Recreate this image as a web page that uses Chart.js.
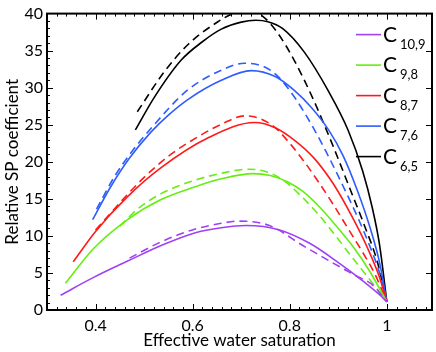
<!DOCTYPE html>
<html>
<head>
<meta charset="utf-8">
<script src="https://cdn.jsdelivr.net/npm/chart.js@4"></script>
<style>
  html, body { margin: 0; padding: 0; background: #fff; }
  #wrap { width: 436px; height: 352px; }
</style>
</head>
<body>
<div id="wrap"><canvas id="spChart" width="436" height="352"></canvas></div>
<script>
// ===== DATA =====
const xTicks = [0.4, 0.6, 0.8, 1];
const yTicks = [0, 5, 10, 15, 20, 25, 30, 35, 40];
const legendSubs = ["10,9", "9,8", "8,7", "7,6", "6,5"];
const seriesColors = ["#a040f5", "#66ee11", "#ff1a1a", "#2e5cff", "#000000"];

const c109X = [0.328, 0.396, 0.466, 0.535, 0.604, 0.659, 0.71, 0.779, 0.841, 0.896, 0.951, 0.986, 1.0];
const c109Y = [2.0, 4.4, 6.6, 8.7, 10.4, 11.1, 11.4, 10.8, 9.0, 6.6, 3.9, 2.0, 1.1];
const c109DashX = [0.47, 0.535, 0.604, 0.659, 0.695, 0.758, 0.827, 0.882, 0.931, 0.972, 1.0];
const c109DashY = [7.0, 9.2, 10.9, 11.7, 12.0, 11.4, 8.7, 6.6, 4.8, 3.3, 1.1];

const c98X = [0.338, 0.396, 0.466, 0.535, 0.604, 0.659, 0.724, 0.76, 0.795, 0.827, 0.86, 0.895, 0.931, 0.965, 1.0];
const c98Y = [3.6, 8.3, 12.2, 14.9, 16.6, 17.7, 18.4, 18.15, 17.3, 16.0, 14.0, 11.4, 8.5, 5.2, 1.1];
const c98DashX = [0.45, 0.49, 0.535, 0.604, 0.659, 0.716, 0.75, 0.785, 0.82, 0.855, 0.89, 0.925, 0.96, 1.0];
const c98DashY = [11.3, 13.8, 15.7, 17.5, 18.45, 19.0, 18.7, 17.6, 15.6, 13.2, 10.4, 7.4, 4.5, 1.1];

const c87X = [0.354, 0.40, 0.466, 0.535, 0.631, 0.728, 0.77, 0.81, 0.85, 0.89, 0.93, 0.96, 0.985, 1.0];
const c87Y = [6.5, 10.6, 15.3, 19.2, 23.2, 25.3, 24.6, 22.9, 20.5, 17.0, 12.4, 8.4, 4.4, 1.1];
const c87DashX = [0.40, 0.466, 0.5, 0.555, 0.617, 0.66, 0.707, 0.74, 0.77, 0.80, 0.83, 0.86, 0.89, 0.92, 0.95, 0.975, 1.0];
const c87DashY = [10.8, 15.6, 17.9, 21.0, 23.6, 25.1, 26.2, 25.8, 24.6, 22.5, 20.0, 17.2, 14.2, 11.0, 7.8, 4.9, 1.1];

const c76X = [0.394, 0.43, 0.47, 0.514, 0.55, 0.59, 0.659, 0.721, 0.77, 0.81, 0.845, 0.88, 0.91, 0.94, 0.965, 0.985, 1.0];
const c76Y = [12.2, 16.5, 20.5, 24.0, 26.3, 28.4, 31.0, 32.3, 31.5, 29.6, 27.3, 24.3, 20.8, 16.0, 11.2, 6.4, 1.1];
const c76DashX = [0.402, 0.438, 0.475, 0.514, 0.59, 0.659, 0.707, 0.748, 0.776, 0.811, 0.845, 0.873, 0.91, 0.94, 0.965, 0.985, 1.0];
const c76DashY = [13.6, 17.9, 21.4, 24.5, 29.7, 32.35, 33.3, 32.8, 31.5, 28.6, 25.0, 21.6, 16.7, 12.5, 8.6, 5.0, 1.1];

const c65X = [0.482, 0.521, 0.576, 0.62, 0.659, 0.70, 0.73, 0.755, 0.785, 0.83, 0.88, 0.92, 0.95, 0.97, 0.985, 1.0];
const c65Y = [24.3, 28.7, 33.7, 36.2, 37.9, 38.85, 39.1, 38.9, 38.0, 34.8, 29.5, 24.3, 18.8, 13.8, 8.8, 1.1];
const c65DashX = [0.486, 0.541, 0.59, 0.652, 0.68, 0.715, 0.745, 0.775, 0.81, 0.85, 0.89, 0.925, 0.955, 0.98, 1.0];
const c65DashY = [26.75, 32.1, 35.8, 38.9, 39.9, 40.4, 39.6, 37.4, 33.6, 28.2, 22.0, 16.2, 11.2, 6.6, 1.1];

// ===== BUILD DATASETS =====
function pts(xs, ys) {
    return xs.map((x, i) => ({ x: x, y: ys[i] }));
}

const curves = [
    [c109X, c109Y, c109DashX, c109DashY],
    [c98X, c98Y, c98DashX, c98DashY],
    [c87X, c87Y, c87DashX, c87DashY],
    [c76X, c76Y, c76DashX, c76DashY],
    [c65X, c65Y, c65DashX, c65DashY]
];

const datasets = [];
curves.forEach((c, i) => {
    const base = {
        borderColor: seriesColors[i],
        borderWidth: 1.6,
        pointRadius: 0,
        fill: false,
        cubicInterpolationMode: "monotone",
        clip: 0
    };
    datasets.push(Object.assign({}, base, { data: pts(c[2], c[3]), borderDash: [8, 5] }));
    datasets.push(Object.assign({}, base, { data: pts(c[0], c[1]) }));
});

// ===== FRAME + INWARD TICKS =====
const framePlugin = {
    id: "frame",
    afterDatasetsDraw(chart) {
        const { ctx, chartArea: a, scales: { x, y } } = chart;
        ctx.save();
        ctx.strokeStyle = "#000";
        ctx.lineWidth = 1;
        ctx.beginPath();
        for (let i = 16; i <= 54; i++) {
            const px = Math.round(x.getPixelForValue(i / 50)) + 0.5;
            const len = i % 10 === 0 ? 6 : 3;
            ctx.moveTo(px, a.bottom);
            ctx.lineTo(px, a.bottom - len);
            ctx.moveTo(px, a.top);
            ctx.lineTo(px, a.top + len);
        }
        for (let v = 1; v < 40; v++) {
            const py = Math.round(y.getPixelForValue(v)) + 0.5;
            const major = v % 5 === 0;
            ctx.moveTo(a.left, py);
            ctx.lineTo(a.left + (major ? 6 : 3), py);
            if (major) {
                ctx.moveTo(a.right, py);
                ctx.lineTo(a.right - 6, py);
            }
        }
        ctx.stroke();
        ctx.lineWidth = 2;
        ctx.strokeRect(a.left, a.top, a.right - a.left, a.bottom - a.top);
        ctx.restore();
    }
};

// ===== LEGEND (C with subscript) =====
const legendPlugin = {
    id: "subLegend",
    afterDraw(chart) {
        const { ctx, chartArea: a } = chart;
        ctx.save();
        legendSubs.forEach((sub, i) => {
            const yy = a.top + 21 + i * 30.5;
            const x0 = a.right - 76;
            ctx.strokeStyle = seriesColors[i];
            ctx.lineWidth = 1.6;
            ctx.beginPath();
            ctx.moveTo(x0, yy);
            ctx.lineTo(x0 + 25, yy);
            ctx.stroke();
            ctx.fillStyle = "#000";
            ctx.textBaseline = "alphabetic";
            ctx.font = "21px Lato";
            ctx.fillText("C", x0 + 27, yy + 7);
            ctx.font = "13px Lato";
            ctx.fillText(sub, x0 + 44, yy + 14);
        });
        ctx.restore();
    }
};

const ctx = document.getElementById("spChart");

new Chart(ctx, {
    type: "line",
    data: { datasets: datasets },
    plugins: [framePlugin, legendPlugin],
    options: {
        responsive: false,
        animation: false,
        devicePixelRatio: 1,
        layout: { padding: { top: 5, right: 4, left: 0, bottom: 0 } },
        plugins: {
            legend: { display: false },
            tooltip: { enabled: false }
        },
        scales: {
            x: {
                type: "linear",
                min: 0.3,
                max: 1.093,
                afterBuildTicks: s => { s.ticks = xTicks.map(v => ({ value: v })); },
                afterFit: s => { s.height = 42; },
                grid: { display: false, drawTicks: false },
                border: { display: false },
                ticks: {
                    padding: 6,
                    color: "#000",
                    font: { family: "Lato", size: 16 },
                    maxRotation: 0,
                    callback: v => String(v)
                },
                title: {
                    display: true,
                    text: "Effective water saturation",
                    color: "#000",
                    font: { family: "Lato", size: 17 },
                    padding: { top: 0, bottom: 1 }
                }
            },
            y: {
                min: 0,
                max: 40,
                afterBuildTicks: s => { s.ticks = yTicks.map(v => ({ value: v })); },
                afterFit: s => { s.width = 47; },
                grid: { display: false, drawTicks: false },
                border: { display: false },
                ticks: {
                    padding: 4,
                    color: "#000",
                    font: { family: "Lato", size: 16 }
                },
                title: {
                    display: true,
                    text: "Relative SP coefficient",
                    color: "#000",
                    font: { family: "Lato", size: 17 },
                    padding: { top: 2, bottom: 0 }
                }
            }
        }
    }
});
</script>
</body>
</html>
